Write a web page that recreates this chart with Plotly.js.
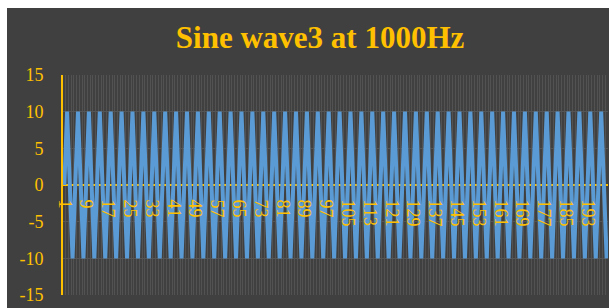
<!DOCTYPE html>
<html><head><meta charset="utf-8">
<script src="https://cdn.plot.ly/plotly-3.0.1.min.js"></script>
<style>html,body{margin:0;padding:0;background:#fff;overflow:hidden}#chart{position:absolute;left:7px;top:8px;width:602px;height:300px}</style>
</head><body><div id="chart"></div>
<script>
const categories = [1,2,3,4,5,6,7,8,9,10,11,12,13,14,15,16,17,18,19,20,21,22,23,24,25,26,27,28,29,30,31,32,33,34,35,36,37,38,39,40,41,42,43,44,45,46,47,48,49,50,51,52,53,54,55,56,57,58,59,60,61,62,63,64,65,66,67,68,69,70,71,72,73,74,75,76,77,78,79,80,81,82,83,84,85,86,87,88,89,90,91,92,93,94,95,96,97,98,99,100,101,102,103,104,105,106,107,108,109,110,111,112,113,114,115,116,117,118,119,120,121,122,123,124,125,126,127,128,129,130,131,132,133,134,135,136,137,138,139,140,141,142,143,144,145,146,147,148,149,150,151,152,153,154,155,156,157,158,159,160,161,162,163,164,165,166,167,168,169,170,171,172,173,174,175,176,177,178,179,180,181,182,183,184,185,186,187,188,189,190,191,192,193,194,195,196,197,198,199,200];
const values = [0,10,0,-10,0,10,0,-10,0,10,0,-10,0,10,0,-10,0,10,0,-10,0,10,0,-10,0,10,0,-10,0,10,0,-10,0,10,0,-10,0,10,0,-10,0,10,0,-10,0,10,0,-10,0,10,0,-10,0,10,0,-10,0,10,0,-10,0,10,0,-10,0,10,0,-10,0,10,0,-10,0,10,0,-10,0,10,0,-10,0,10,0,-10,0,10,0,-10,0,10,0,-10,0,10,0,-10,0,10,0,-10,0,10,0,-10,0,10,0,-10,0,10,0,-10,0,10,0,-10,0,10,0,-10,0,10,0,-10,0,10,0,-10,0,10,0,-10,0,10,0,-10,0,10,0,-10,0,10,0,-10,0,10,0,-10,0,10,0,-10,0,10,0,-10,0,10,0,-10,0,10,0,-10,0,10,0,-10,0,10,0,-10,0,10,0,-10,0,10,0,-10,0,10,0,-10,0,10,0,-10,0,10,0,-10,0,10,0,-10,0,10,0,-10,0,10,0,-10,0,10,0,-10,0,10,0,-10];
const xTickVals = [1,9,17,25,33,41,49,57,65,73,81,89,97,105,113,121,129,137,145,153,161,169,177,185,193];
const xTickLabels = ['1','9','17','25','33','41','49','57','65','73','81','89','97','105','113','121','129','137','145','153','161','169','177','185','193'];
const yTickVals = [-15,-10,-5,0,5,10,15];
const yTickLabels = ['-15','-10','-5','0','5','10','15'];
const chartTitle = 'Sine wave3 at 1000Hz';

const gold = '#FFC000';
const font = 'Liberation Serif, Times New Roman, serif';

const trace = {
  x: categories, y: values, type: 'scatter', mode: 'lines',
  line: {color: '#5B9BD5', width: 4}, hoverinfo: 'skip'
};

const layout = {
  width: 602, height: 300,
  paper_bgcolor: '#404040', plot_bgcolor: '#404040',
  margin: {l: 56, r: 1, t: 67, b: 13, pad: 0},
  showlegend: false,
  title: {text: chartTitle, font: {family: font, size: 31, color: gold, weight: 'bold'},
          x: 0.52, xref: 'container', xanchor: 'center', y: 0.903, yref: 'container', yanchor: 'middle'},
  xaxis: {
    type: 'linear', range: [0.5, 200.5], anchor: 'free', position: 0.5,
    showline: false, zeroline: false, showgrid: false,
    tickmode: 'array', tickvals: xTickVals, ticktext: xTickLabels, tickangle: 90,
    ticks: 'outside', ticklen: 10, tickcolor: 'rgba(0,0,0,0)',
    tickfont: {family: font, size: 18, color: gold},
    minor: {tickmode: 'linear', tick0: 0.5, dtick: 1, showgrid: true, gridcolor: '#525252', gridwidth: 1, ticks: ''},
    automargin: false
  },
  yaxis: {
    range: [-15, 15], tickmode: 'array', tickvals: yTickVals, ticktext: yTickLabels,
    showgrid: true, gridcolor: '#555555', gridwidth: 1,
    zeroline: true, zerolinecolor: gold, zerolinewidth: 1.5,
    showline: true, linecolor: gold, linewidth: 2,
    ticks: 'outside', ticklen: 14, tickcolor: 'rgba(0,0,0,0)',
    tickfont: {family: font, size: 18, color: gold},
    automargin: false
  }
};

Plotly.newPlot('chart', [trace], layout, {staticPlot: true, displayModeBar: false});
</script>
</body></html>
